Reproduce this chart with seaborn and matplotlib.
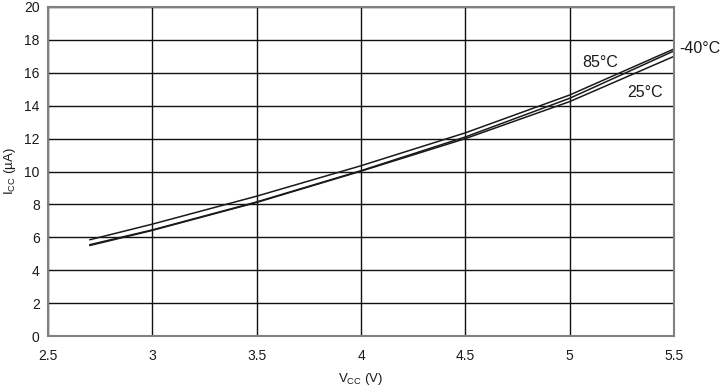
import matplotlib
matplotlib.use("Agg")
import matplotlib.pyplot as plt
import seaborn as sns
import pandas as pd

vcc = [2.7, 3.0, 3.5, 4.0, 4.5, 5.0, 5.5]
icc_85 = [5.85, 6.8, 8.5, 10.35, 12.35, 14.65, 17.45]
icc_m40 = [5.55, 6.45, 8.15, 10.05, 12.1, 14.45, 17.33]
icc_25 = [5.5, 6.42, 8.12, 10.02, 12.0, 14.25, 17.0]
series_names = ["85°C", "-40°C", "25°C"]
x_ticks = [2.5, 3, 3.5, 4, 4.5, 5, 5.5]
x_tick_labels = ["2.5", "3", "3.5", "4", "4.5", "5", "5.5"]
y_ticks = list(range(0, 21, 2))

rows = []
for name, vals in zip(series_names, [icc_85, icc_m40, icc_25]):
    for v, i in zip(vcc, vals):
        rows.append({"Vcc": v, "Icc": i, "temp": name})
df = pd.DataFrame(rows)

sns.set_style("white")
plt.rcParams["font.family"] = ["Liberation Sans", "DejaVu Sans"]
plt.rcParams["mathtext.fontset"] = "custom"
plt.rcParams["mathtext.rm"] = "Liberation Sans"

fig = plt.figure(figsize=(7.25, 3.9), dpi=100)
ax = fig.add_axes([48 / 725, 1 - 336 / 390, 626 / 725, 329 / 390])

sns.lineplot(data=df, x="Vcc", y="Icc", hue="temp", units="temp", estimator=None,
             palette=["#1a1a1a"] * 3, linewidth=1.1, legend=False, ax=ax)

ax.set_xlim(2.5, 5.5)
ax.set_ylim(0, 20)
ax.set_xticks(x_ticks)
ax.set_xticklabels(x_tick_labels)
ax.set_yticks(y_ticks)
ax.grid(True, color="#111111", linewidth=1.0)
ax.set_axisbelow(True)
for s in ax.spines.values():
    s.set_color("#808080")
    s.set_linewidth(1.5)
ax.tick_params(axis="both", labelsize=10, colors="#1a1a1a", length=0)
ax.tick_params(axis="x", pad=9)
ax.tick_params(axis="y", pad=6)
ax.set_xlabel(r"V$_{\mathregular{CC}}$ (V)", fontsize=9.5, color="#1a1a1a", labelpad=6)
ax.set_ylabel(r"I$_{\mathregular{CC}}$ (µA)", fontsize=9.5, color="#1a1a1a", labelpad=4)

ax.text(5.145, 16.65, "85°C", fontsize=11.5, ha="center", va="center", color="#1a1a1a")
ax.text(5.36, 14.83, "25°C", fontsize=11.5, ha="center", va="center", color="#1a1a1a")
ax.text(5.625, 17.45, "-40°C", fontsize=11.5, ha="center", va="center", color="#1a1a1a", clip_on=False)

fig.savefig("out.png", dpi=100)
